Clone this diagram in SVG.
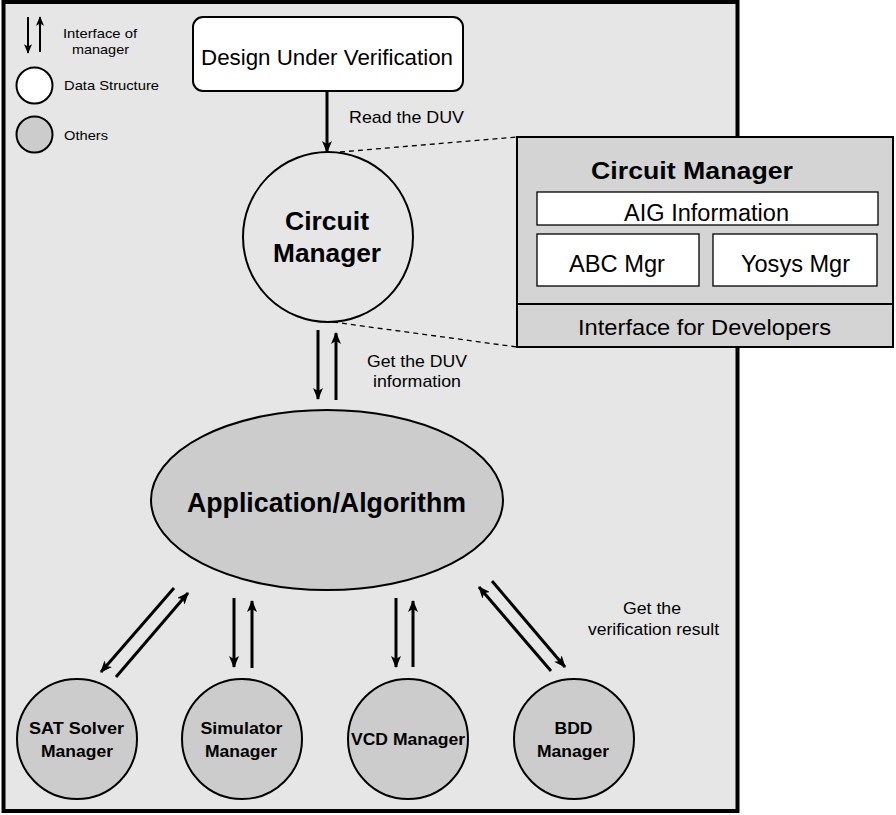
<svg xmlns="http://www.w3.org/2000/svg" width="896" height="815" viewBox="0 0 896 815">
<defs>
<marker id="ah" viewBox="0 0 12 10" refX="11" refY="5" markerWidth="12" markerHeight="10" markerUnits="userSpaceOnUse" orient="auto">
<path d="M0,0 L12,5 L0,10 L3,5 Z" fill="#000"/>
</marker>
<marker id="ahs" viewBox="0 0 12 10" refX="11" refY="5" markerWidth="10" markerHeight="8" markerUnits="userSpaceOnUse" orient="auto">
<path d="M0,0 L12,5 L0,10 L3,5 Z" fill="#000"/>
</marker>
</defs>
<style>
text{font-family:"Liberation Sans",Arial,sans-serif;fill:#000}
.b{font-weight:bold}
.node{stroke:#000;stroke-width:2}
.gray{fill:#cccccc}
.white{fill:#fff}
.arr{stroke:#000;stroke-width:3;fill:none;marker-end:url(#ah)}
.dash{stroke:#000;stroke-width:1.3;stroke-dasharray:5,4;fill:none}
</style>
<rect x="3.5" y="2" width="734" height="809" fill="#e6e6e6" stroke="#000" stroke-width="4"/>

<g id="legend">
<line x1="28" y1="17" x2="28" y2="53" stroke="#000" stroke-width="2" marker-end="url(#ahs)"/>
<line x1="40" y1="52" x2="40" y2="17" stroke="#000" stroke-width="2" marker-end="url(#ahs)"/>
<text x="63" y="37.5" font-size="13" textLength="74" lengthAdjust="spacingAndGlyphs">Interface of</text>
<text x="72" y="54" font-size="13" textLength="57" lengthAdjust="spacingAndGlyphs">manager</text>
<circle cx="34.5" cy="85.5" r="18" class="node white"/>
<text x="64" y="90" font-size="13" textLength="95" lengthAdjust="spacingAndGlyphs">Data Structure</text>
<circle cx="34.5" cy="134.5" r="18" class="node gray"/>
<text x="64" y="139.5" font-size="13" textLength="44" lengthAdjust="spacingAndGlyphs">Others</text>
</g>

<g id="connectors">
<line x1="327" y1="92" x2="327" y2="152" class="arr"/>
<line x1="340" y1="152" x2="517" y2="137" class="dash"/>
<line x1="333" y1="322" x2="517" y2="347" class="dash"/>
<line x1="318" y1="330" x2="318" y2="399" class="arr"/>
<line x1="336" y1="400" x2="336" y2="333" class="arr"/>
<line x1="174" y1="588" x2="101" y2="672" class="arr"/>
<line x1="116" y1="677" x2="188" y2="593" class="arr"/>
<line x1="234" y1="598" x2="234" y2="667" class="arr"/>
<line x1="252" y1="668" x2="252" y2="601" class="arr"/>
<line x1="396" y1="598" x2="396" y2="667" class="arr"/>
<line x1="413" y1="667" x2="413" y2="601" class="arr"/>
<line x1="551" y1="671" x2="479" y2="587" class="arr"/>
<line x1="492" y1="581" x2="565" y2="667" class="arr"/>
<text x="349" y="123" font-size="17" textLength="115" lengthAdjust="spacingAndGlyphs">Read the DUV</text>
<text x="367" y="366.5" font-size="17" textLength="100" lengthAdjust="spacingAndGlyphs">Get the DUV</text>
<text x="373" y="387" font-size="17" textLength="88" lengthAdjust="spacingAndGlyphs">information</text>
<text x="623" y="614" font-size="17" textLength="58" lengthAdjust="spacingAndGlyphs">Get the</text>
<text x="588" y="635" font-size="17" textLength="131" lengthAdjust="spacingAndGlyphs">verification result</text>
</g>

<g id="duv">
<rect x="193" y="17" width="270" height="74" rx="10" class="node white"/>
<text x="201" y="65" font-size="22" textLength="252" lengthAdjust="spacingAndGlyphs">Design Under Verification</text>
</g>

<g id="circuit-manager">
<circle cx="328" cy="237" r="85" fill="#e6e6e6" class="node"/>
<text x="285" y="230" font-size="26" class="b" textLength="84" lengthAdjust="spacingAndGlyphs">Circuit</text>
<text x="273" y="262" font-size="26" class="b" textLength="108" lengthAdjust="spacingAndGlyphs">Manager</text>
</g>

<g id="circuit-manager-detail">
<rect x="517" y="137" width="376" height="210" fill="#d4d4d4" stroke="#000" stroke-width="2"/>
<line x1="517" y1="304" x2="893" y2="304" stroke="#000" stroke-width="2"/>
<text x="591" y="179" font-size="24.5" class="b" textLength="202" lengthAdjust="spacingAndGlyphs">Circuit Manager</text>
<rect x="537" y="192" width="341" height="33" fill="#fff" stroke="#000" stroke-width="1.3"/>
<text x="624" y="220.5" font-size="23" textLength="165" lengthAdjust="spacingAndGlyphs">AIG Information</text>
<rect x="537" y="234" width="162" height="52" fill="#fff" stroke="#000" stroke-width="1.3"/>
<text x="569" y="271.5" font-size="23" textLength="96" lengthAdjust="spacingAndGlyphs">ABC Mgr</text>
<rect x="713" y="234" width="164" height="52" fill="#fff" stroke="#000" stroke-width="1.3"/>
<text x="741" y="271.5" font-size="23" textLength="109" lengthAdjust="spacingAndGlyphs">Yosys Mgr</text>
<text x="578" y="335" font-size="22" textLength="253" lengthAdjust="spacingAndGlyphs">Interface for Developers</text>
</g>

<g id="application">
<ellipse cx="327" cy="500" rx="176" ry="90" class="node gray"/>
<text x="187" y="511.5" font-size="27.5" class="b" textLength="279" lengthAdjust="spacingAndGlyphs">Application/Algorithm</text>
</g>

<g id="sat">
<circle cx="77" cy="739" r="60" class="node gray"/>
<text x="29" y="734" font-size="17" class="b" textLength="95" lengthAdjust="spacingAndGlyphs">SAT Solver</text>
<text x="41" y="756.5" font-size="17" class="b" textLength="72" lengthAdjust="spacingAndGlyphs">Manager</text>
</g>
<g id="simulator">
<circle cx="242" cy="739" r="60" class="node gray"/>
<text x="200.5" y="734" font-size="17" class="b" textLength="82" lengthAdjust="spacingAndGlyphs">Simulator</text>
<text x="205" y="756.5" font-size="17" class="b" textLength="72" lengthAdjust="spacingAndGlyphs">Manager</text>
</g>
<g id="vcd">
<circle cx="408" cy="739" r="60" class="node gray"/>
<text x="351" y="745" font-size="17" class="b" textLength="114" lengthAdjust="spacingAndGlyphs">VCD Manager</text>
</g>
<g id="bdd">
<circle cx="574" cy="739" r="60" class="node gray"/>
<text x="554.5" y="734" font-size="17" class="b" textLength="38" lengthAdjust="spacingAndGlyphs">BDD</text>
<text x="537" y="756.5" font-size="17" class="b" textLength="72" lengthAdjust="spacingAndGlyphs">Manager</text>
</g>
</svg>
